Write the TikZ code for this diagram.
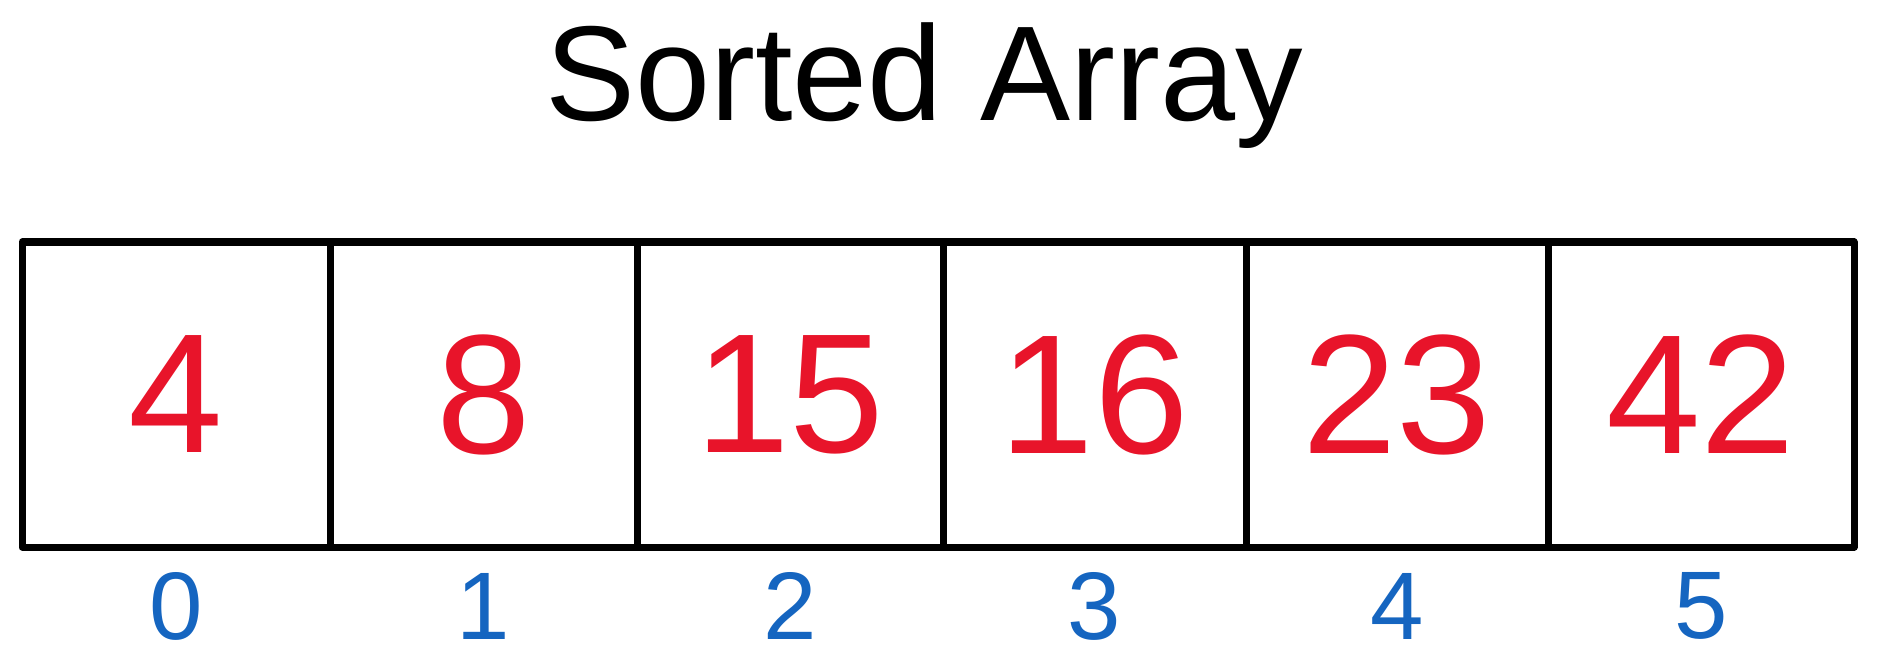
\documentclass[tikz,border=0pt]{standalone}
\usepackage{fontspec}
\setmainfont{Liberation Sans}
\definecolor{numred}{HTML}{E8142A}
\definecolor{idxblue}{HTML}{1565C0}
\tikzset{
  cellbox/.style={draw=black,line width=7pt,minimum height=305pt,inner sep=0pt,line join=round},
  val/.style={text=numred,font=\fontsize{170}{170}\selectfont,inner sep=0pt},
  idx/.style={text=idxblue,font=\fontsize{96}{96}\selectfont,inner sep=0pt},
  ttl/.style={text=black,font=\fontsize{135}{135}\selectfont,inner sep=0pt}
}
\begin{document}
\begin{tikzpicture}[x=1pt,y=-1pt]
\useasboundingbox (0,0) rectangle (1882,663);
\node[ttl] (title) at (924,86) {Sorted Array};
\foreach \i/\l/\r/\v in {0/22/330/4,1/330/637/8,2/637/943/15,3/943/1246/16,4/1246/1548/23,5/1548/1854/42}{
  \node[cellbox,minimum width={\r-\l}] (c\i) at ({(\l+\r)/2},394.5) {};
  \node[val] (v\i) at (c\i.center) {\v};
  \node[idx] (i\i) at ({(\l+\r)/2},606) {\i};
}
\end{tikzpicture}
\end{document}
